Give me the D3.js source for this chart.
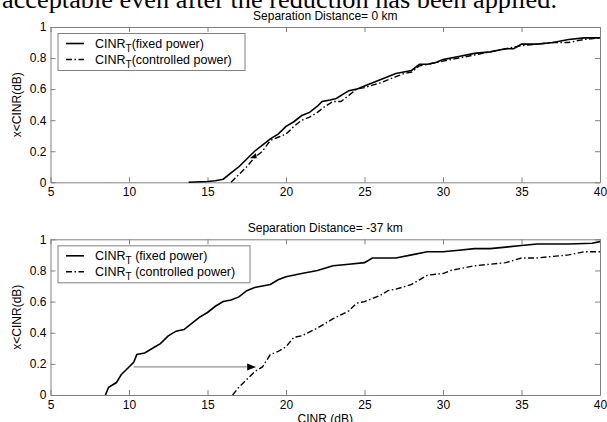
<!DOCTYPE html>
<html lang="en">
<head>
<meta charset="UTF-8">
<title>CINR CDF</title>
<script src="https://cdnjs.cloudflare.com/ajax/libs/d3/7.8.5/d3.min.js"></script>
<style>
    body { margin: 0; padding: 0; background: #fff; }
    svg { display: block; }
    text { font-family: "Liberation Sans", Arial, sans-serif; }
    .tick line { stroke: #808080; }
    .domain { stroke: #808080; }
    .tick text { fill: #000; font-size: 12px; }
</style>
</head>
<body>
<div id="chart"></div>
<script>
    const xTicks = [5, 10, 15, 20, 25, 30, 35, 40];
    const yTicks = [0, 0.2, 0.4, 0.6, 0.8, 1];

    // top panel, separation 0 km
    const topFixedX = [13.8, 15, 15.5, 16, 16.5, 17, 17.5, 18, 18.5, 19, 19.5, 20, 20.5, 21, 21.5, 22, 22.3, 22.8, 23.2, 24, 24.5, 25, 26, 27, 27.5, 28, 28.5, 29, 29.5, 30, 31, 32, 33, 34, 34.5, 35, 36, 37, 38, 39, 40];
    const topFixedY = [0, 0.005, 0.01, 0.02, 0.06, 0.1, 0.15, 0.2, 0.24, 0.28, 0.31, 0.36, 0.39, 0.43, 0.45, 0.49, 0.52, 0.53, 0.54, 0.59, 0.6, 0.62, 0.66, 0.7, 0.71, 0.72, 0.76, 0.76, 0.77, 0.79, 0.81, 0.83, 0.84, 0.86, 0.86, 0.89, 0.89, 0.9, 0.92, 0.93, 0.93];
    const topCtrlX = [16.5, 17, 17.5, 18, 18.5, 19, 19.5, 20, 20.5, 21, 21.5, 22, 22.5, 23, 23.5, 24, 24.5, 25, 26, 27, 27.5, 28, 28.5, 29, 30, 31, 32, 33, 34, 35, 36, 37, 38, 39, 40];
    const topCtrlY = [0, 0.05, 0.1, 0.16, 0.2, 0.27, 0.29, 0.31, 0.36, 0.4, 0.42, 0.45, 0.49, 0.52, 0.52, 0.56, 0.6, 0.61, 0.64, 0.68, 0.7, 0.71, 0.75, 0.76, 0.78, 0.8, 0.82, 0.84, 0.86, 0.88, 0.89, 0.9, 0.9, 0.92, 0.93];

    // bottom panel, separation -37 km
    const botFixedX = [8.5, 8.7, 9.2, 9.5, 10, 10.3, 10.5, 11, 11.5, 12, 12.5, 13, 13.5, 14, 14.5, 15, 15.5, 16, 16.5, 17, 17.5, 18, 18.5, 19, 19.5, 20, 21, 22, 23, 24, 25, 25.5, 27, 28, 29, 30, 31, 32, 33, 34, 35, 36, 38, 39.5, 40];
    const botFixedY = [0, 0.05, 0.08, 0.13, 0.18, 0.21, 0.26, 0.27, 0.3, 0.33, 0.38, 0.41, 0.42, 0.46, 0.5, 0.53, 0.57, 0.6, 0.61, 0.63, 0.67, 0.69, 0.7, 0.71, 0.74, 0.76, 0.78, 0.8, 0.83, 0.84, 0.85, 0.88, 0.88, 0.9, 0.92, 0.92, 0.93, 0.94, 0.94, 0.95, 0.96, 0.97, 0.97, 0.975, 0.985];
    const botCtrlX = [16.6, 17, 17.5, 18, 18.5, 19, 19.5, 20, 20.5, 21, 22, 23, 24, 24.5, 25, 26, 26.5, 27, 28, 28.5, 29, 30, 30.5, 31, 32, 33, 34, 35, 36, 37, 38, 39, 40];
    const botCtrlY = [0, 0.05, 0.1, 0.15, 0.18, 0.26, 0.28, 0.31, 0.37, 0.38, 0.43, 0.49, 0.54, 0.59, 0.6, 0.64, 0.67, 0.68, 0.71, 0.74, 0.77, 0.78, 0.8, 0.81, 0.83, 0.84, 0.85, 0.88, 0.88, 0.89, 0.9, 0.92, 0.92];

    const width = 607, height = 422;
    const left = 50.5, right = 600;

    const svg = d3.select("#chart").append("svg")
        .attr("width", width)
        .attr("height", height);

    // text from the page above the figure, cut by the crop
    svg.append("text")
        .attr("x", 2)
        .attr("y", 8)
        .attr("textLength", 555)
        .attr("lengthAdjust", "spacingAndGlyphs")
        .style("font-family", "'Liberation Serif', 'Times New Roman', serif")
        .style("font-size", "25px")
        .text("acceptable even after the reduction has been applied.");

    const x = d3.scaleLinear().domain([5, 40]).range([left, right]);

    function panel(top, bottom, title, fixed, ctrl, labels, spaced) {
        const y = d3.scaleLinear().domain([0, 1]).range([bottom, top]);
        const g = svg.append("g");

        g.append("g").attr("transform", `translate(0,${bottom})`)
            .call(d3.axisBottom(x).tickValues(xTicks).tickSize(-5).tickSizeOuter(0).tickPadding(5));
        g.append("g").attr("transform", `translate(0,${top})`)
            .call(d3.axisTop(x).tickValues(xTicks).tickSize(-5).tickSizeOuter(0).tickFormat(""));
        g.append("g").attr("transform", `translate(${left},0)`)
            .call(d3.axisLeft(y).tickValues(yTicks).tickSize(-5).tickSizeOuter(0).tickPadding(4).tickFormat(d3.format("")));
        g.append("g").attr("transform", `translate(${right},0)`)
            .call(d3.axisRight(y).tickValues(yTicks).tickSize(-5).tickSizeOuter(0).tickFormat(""));

        g.append("text")
            .attr("x", (left + right) / 2)
            .attr("y", top - 7)
            .attr("text-anchor", "middle")
            .style("font-size", "12px")
            .text(title);

        g.append("text")
            .attr("transform", `translate(21,${(top + bottom) / 2}) rotate(-90)`)
            .attr("text-anchor", "middle")
            .style("font-size", "12px")
            .text("x<CINR(dB)");

        const line = d3.line().x(d => x(d[0])).y(d => y(d[1]));

        g.append("path")
            .datum(d3.zip(fixed[0], fixed[1]))
            .attr("d", line)
            .attr("fill", "none")
            .attr("stroke", "#000")
            .attr("stroke-width", 1.6);

        g.append("path")
            .datum(d3.zip(ctrl[0], ctrl[1]))
            .attr("d", line)
            .attr("fill", "none")
            .attr("stroke", "#000")
            .attr("stroke-width", 1.4)
            .attr("stroke-dasharray", "6,2.5,1.5,2.5");

        // legend
        const lg = g.append("g").attr("transform", `translate(58,${top + 6.5})`);
        lg.append("rect")
            .attr("width", spaced ? 192 : 187)
            .attr("height", 37)
            .attr("fill", "#fff")
            .attr("stroke", "#808080");
        labels.forEach((lab, i) => {
            const ly = 10 + i * 16;
            lg.append("line")
                .attr("x1", 8).attr("x2", 26)
                .attr("y1", ly).attr("y2", ly)
                .attr("stroke", "#000")
                .attr("stroke-width", i ? 1.4 : 1.6)
                .attr("stroke-dasharray", i ? "6,2.5,1.5,2.5" : null);
            const t = lg.append("text")
                .attr("x", 37)
                .attr("y", ly + 4)
                .style("font-size", "12.5px");
            t.append("tspan").text("CINR");
            t.append("tspan").attr("dy", 4).style("font-size", "10px").text("T");
            t.append("tspan").attr("dy", -4).text((spaced ? " " : "") + lab);
        });

        return y;
    }

    const labels = ["(fixed power)", "(controlled power)"];

    const yTop = panel(27, 182.3, "Separation Distance= 0 km",
        [topFixedX, topFixedY], [topCtrlX, topCtrlY], labels, false);
    const yBot = panel(239.3, 395, "Separation Distance= -37 km",
        [botFixedX, botFixedY], [botCtrlX, botCtrlY], labels, true);

    svg.append("text")
        .attr("x", (left + right) / 2)
        .attr("y", 423)
        .attr("text-anchor", "middle")
        .style("font-size", "12px")
        .text("CINR (dB)");

    // shift arrow in the lower panel
    const arrowY = 0.18;
    svg.append("line")
        .attr("x1", x(10.3)).attr("x2", x(17.5))
        .attr("y1", yBot(arrowY)).attr("y2", yBot(arrowY))
        .attr("stroke", "#909090")
        .attr("stroke-width", 1.2);
    svg.append("path")
        .attr("d", `M${x(18.1)},${yBot(arrowY)} l-9,-3.5 l0,7 z`)
        .attr("fill", "#000");

    // small arrowhead in the upper panel
    svg.append("path")
        .attr("d", `M${x(17.7)},${yTop(0.155)} l6,-5 l1,5 z`)
        .attr("fill", "#000");
</script>
</body>
</html>
